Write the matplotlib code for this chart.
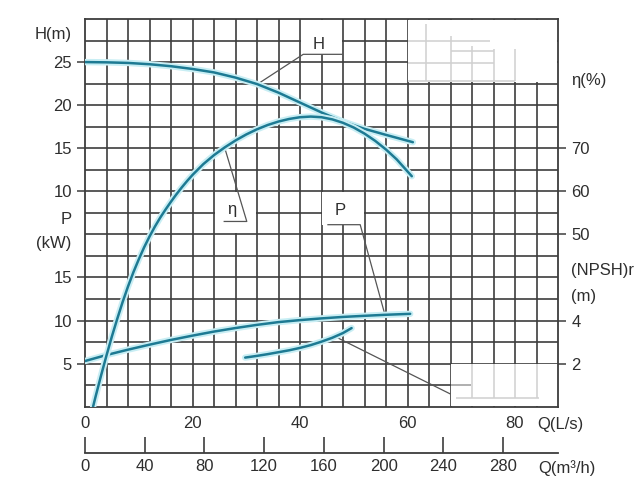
import numpy as np
import matplotlib
matplotlib.use('Agg')
import matplotlib.pyplot as plt
import matplotlib.patheffects as pe
from matplotlib.patches import Rectangle

plt.rcParams['font.family'] = ['Liberation Sans', 'DejaVu Sans']

# values, flow Q in L/s
q_head = [0, 4, 8, 12, 16, 20, 24, 28, 32, 36, 40, 44, 48, 52, 56, 61]
head = [25.0, 24.97, 24.9, 24.75, 24.52, 24.2, 23.8, 23.2, 22.45, 21.45, 20.3, 19.15, 18.1, 17.25, 16.55, 15.7]

q_eta = [1.5, 2, 3, 4, 5, 6, 7, 8, 9, 10, 11, 12, 13, 14, 15, 16, 17, 18, 19, 20,
         22, 24, 26, 28, 30, 32, 34, 36, 38, 40, 42, 44, 46, 48, 50, 52, 54, 56, 58, 60.8]
eta = [10, 12.5, 17.3, 21.9, 26.3, 30.4, 34.3, 37.9, 41.2, 44.2, 47.0, 49.5, 51.8, 53.9, 55.8, 57.6, 59.3, 60.9, 62.4, 63.8,
       66.3, 68.4, 70.2, 71.8, 73.2, 74.4, 75.4, 76.2, 76.8, 77.2, 77.35, 77.2, 76.7, 75.9, 74.8, 73.4, 71.7, 69.7, 67.4, 63.5]

q_power = [0, 4, 8, 12, 16, 20, 24, 28, 32, 36, 40, 44, 48, 52, 56, 60.5]
power = [5.3, 6.0, 6.62, 7.2, 7.75, 8.25, 8.72, 9.13, 9.5, 9.82, 10.05, 10.25, 10.42, 10.55, 10.67, 10.78]

q_npsh = [29.8, 32, 34, 36, 38, 40, 42, 44, 46, 48, 49.6]
npsh = [2.28, 2.36, 2.44, 2.53, 2.62, 2.73, 2.86, 3.02, 3.2, 3.42, 3.65]

# axis ticks
q_ticks = [0, 20, 40, 60, 80]
m3h_ticks = [0, 40, 80, 120, 160, 200, 240, 280]
head_ticks = [10, 15, 20, 25]
power_ticks = [5, 10, 15]
eta_ticks = [50, 60, 70]
npsh_ticks = [2, 4]

GRID = '#3d3d3d'
TXT = '#2e2e2e'
LINE = '#1d7a93'
HALO = '#c8eef4'
FS = 12

fig = plt.figure(figsize=(6.4, 4.8), dpi=100)
ax = fig.add_axes([85 / 640, 1 - 406.7 / 480, 473 / 640, 387.7 / 480])
ax.set_xlim(0, 88)
ax.set_ylim(0, 18)

# grid of 4 L/s by one row
ax.vlines(np.arange(4, 88, 4), 0, 18, color=GRID, lw=1.2, zorder=1)
ax.hlines(np.arange(1, 18), 0, 88, color=GRID, lw=1.2, zorder=1)
for s in ax.spines.values():
    s.set_color(GRID)
    s.set_linewidth(1.3)

# erased parts of the grid (label boxes and blank corners)
for x0, y0, w, h in [(60.15, 15.06, 27.75, 2.9), (68.15, 0.04, 19.8, 1.92),
                     (40.15, 16.36, 7.7, 1.6), (24.15, 8.05, 7.7, 1.9),
                     (44.15, 8.45, 7.7, 1.5)]:
    ax.add_patch(Rectangle((x0, y0), w, h, facecolor='white', edgecolor='none', zorder=1.5))

# faint leftovers in the blank corners
faint = dict(color='#d0d0d0', lw=1.1, zorder=1.6)
ax.vlines([63.5, 68, 72, 76, 80], [15.1, 15.1, 15.1, 15.1, 15.1], [17.75, 17.2, 16.75, 16.6, 16.6], **faint)
ax.hlines([16.98, 16.5, 15.97, 15.12], [60, 68, 60, 60], [75.3, 76, 76, 80], **faint)
ax.vlines([72, 76, 80, 84], 0.39, 2, **faint)
ax.hlines(0.39, 69, 84.5, **faint)
ax.hlines(1, 68, 71.8, color='#9a9a9a', lw=1.1, zorder=1.6)

# leader lines and curve labels
lead = dict(color='#555555', lw=0.9, zorder=2)
ax.plot([32.0, 40.6, 47.8], [14.96, 16.36, 16.36], **lead)
ax.plot([26.05, 30.1, 25.9], [11.97, 8.6, 8.6], **lead)
ax.plot([55.8, 51.2, 45.2], [4.27, 8.45, 8.45], **lead)
ax.plot([46.5, 67.9], [3.26, 0.6], **lead)
ax.text(43.5, 16.8, 'H', fontsize=FS, color=TXT, ha='center', va='center')
ax.text(27.3, 9.15, 'η', fontsize=FS, color=TXT, ha='center', va='center')
ax.text(47.4, 9.12, 'P', fontsize=FS, color=TXT, ha='center', va='center')

ax.set_yticks([])
ax.set_xticks(q_ticks)
ax.tick_params(axis='x', length=0, pad=6.5, labelsize=FS, labelcolor=TXT)

# flow in m3/h under the L/s scale
sec = ax.secondary_xaxis(-0.1202, functions=(lambda q: q * 3.6, lambda m: m / 3.6))
sec.set_xticks(m3h_ticks)
sec.tick_params(direction='in', length=11.5, width=1.2, color=GRID, pad=4,
                labelsize=FS, labelcolor=TXT)
sec.spines['bottom'].set_color(GRID)
sec.spines['bottom'].set_linewidth(1.3)


def curve_axis(lims, ticks, side):
    t = ax.twinx()
    t.set_ylim(*lims)
    for s in t.spines.values():
        s.set_visible(False)
    if side == 'left':
        t.yaxis.tick_left()
    t.set_yticks(ticks)
    t.tick_params(axis='y', direction='out', length=6, width=1.1, color=GRID,
                  pad=3.5, labelsize=FS, labelcolor=TXT)
    return t


ax_h = curve_axis((-15, 30), head_ticks, 'left')
ax_p = curve_axis((0, 45), power_ticks, 'left')
ax_e = curve_axis((10, 100), eta_ticks, 'right')
ax_n = curve_axis((0, 18), npsh_ticks, 'right')

glow = [pe.Stroke(linewidth=4.6, foreground=HALO), pe.Normal()]
style = dict(color=LINE, lw=1.8, path_effects=glow, solid_capstyle='round', solid_joinstyle='round')
ax_h.plot(q_head, head, **style)
ax_e.plot(q_eta, eta, **style)
ax_p.plot(q_power, power, **style)
ax_n.plot(q_npsh, npsh, **style)

# axis titles
fig.text(71.7 / 640, 1 - 35 / 480, 'H(m)', fontsize=FS, color=TXT, ha='right', va='center')
fig.text(71.7 / 640, 1 - 220 / 480, 'P', fontsize=FS, color=TXT, ha='right', va='center')
fig.text(71.7 / 640, 1 - 243.3 / 480, '(kW)', fontsize=FS, color=TXT, ha='right', va='center')
fig.text(570.7 / 640, 1 - 80 / 480, 'η(%)', fontsize=FS, color=TXT, ha='left', va='center')
fig.text(570.7 / 640, 1 - 270 / 480, '(NPSH)r', fontsize=FS, color=TXT, ha='left', va='center')
fig.text(570.7 / 640, 1 - 296.7 / 480, '(m)', fontsize=FS, color=TXT, ha='left', va='center')
fig.text(537 / 640, 1 - 424 / 480, 'Q(L/s)', fontsize=FS, color=TXT, ha='left', va='center')
fig.text(538 / 640, 1 - 468 / 480, 'Q(m³/h)', fontsize=FS, color=TXT, ha='left', va='center')

fig.savefig('out.png', dpi=100, facecolor='white')
